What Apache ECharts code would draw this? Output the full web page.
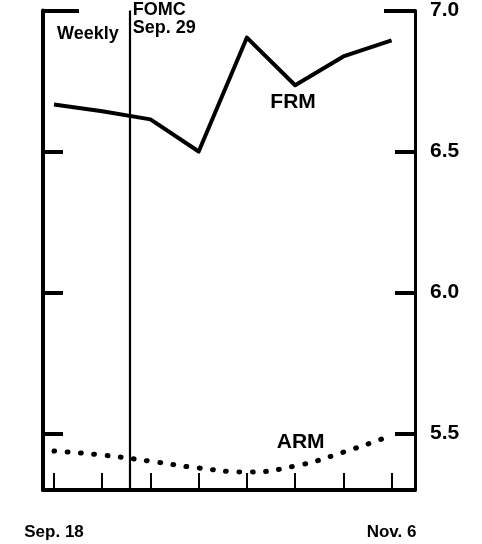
<!DOCTYPE html>
<html>
<head>
<meta charset="utf-8">
<script src="https://cdn.jsdelivr.net/npm/echarts@6/dist/echarts.min.js"></script>
<style>
html,body{margin:0;padding:0;background:#fff;}
#chart{width:482px;height:544px;}
</style>
</head>
<body>
<div id="chart"></div>
<script>
// Days since Sep. 18 (weekly observations)
const days = [0, 7, 14, 21, 28, 35, 42, 49];
const dateLabels = {0: 'Sep. 18', 49: 'Nov. 6'};
const frmValues = [6.667, 6.643, 6.614, 6.50, 6.904, 6.735, 6.837, 6.894];
const armValues = [5.438, 5.424, 5.402, 5.378, 5.364, 5.385, 5.434, 5.494];
const yTicks = [5.5, 6.0, 6.5];
const yLabels = [5.5, 6.0, 6.5, 7.0];
const fomcDay = 11; // Sep. 29
const fomcText = 'FOMC\nSep. 29';

const FONT = '"Liberation Sans", Arial, sans-serif';
const chart = echarts.init(document.getElementById('chart'));

const pairs = (vals) => days.map((d, i) => [d, vals[i]]);

const yBase = {
  type: 'value', min: 5.3, max: 7.0,
  splitLine: {show: false},
};

chart.setOption({
  animation: false,
  backgroundColor: '#fff',
  title: {
    text: 'Weekly', left: 52, top: 20,
    textStyle: {fontFamily: FONT, fontWeight: 'bold', fontSize: 18, color: '#000'}
  },
  grid: {left: 43, right: 67, top: 9, bottom: 54},
  xAxis: {
    type: 'value', min: -1.6, max: 52.4,
    splitLine: {show: false},
    axisLine: {onZero: false, lineStyle: {color: '#000', width: 4}},
    axisTick: {inside: true, length: 17, customValues: days, lineStyle: {color: '#000', width: 2}},
    axisLabel: {
      customValues: [0, 49], margin: 34,
      fontFamily: FONT, fontWeight: 'bold', fontSize: 17, color: '#000',
      formatter: v => dateLabels[v] || ''
    }
  },
  yAxis: [
    Object.assign({}, yBase, {
      position: 'right',
      axisLine: {show: true, onZero: false, lineStyle: {color: '#000', width: 3}},
      axisTick: {show: true, inside: true, length: 20, customValues: yTicks, lineStyle: {color: '#000', width: 4}},
      axisLabel: {show: true, customValues: yLabels, margin: 15,
        fontFamily: FONT, fontWeight: 'bold', fontSize: 21, color: '#000',
        formatter: v => v.toFixed(1)}
    }),
    Object.assign({}, yBase, {
      position: 'left',
      axisLine: {show: true, onZero: false, lineStyle: {color: '#000', width: 4}},
      axisTick: {show: true, inside: true, length: 20, customValues: yTicks, lineStyle: {color: '#000', width: 4}},
      axisLabel: {show: false}
    }),
    Object.assign({}, yBase, {
      position: 'right',
      axisLine: {show: false, onZero: false},
      axisTick: {show: true, inside: true, length: 31, customValues: [7.0], lineStyle: {color: '#000', width: 4}},
      axisLabel: {show: false}
    }),
    Object.assign({}, yBase, {
      position: 'left',
      axisLine: {show: false, onZero: false},
      axisTick: {show: true, inside: true, length: 36, customValues: [7.0], lineStyle: {color: '#000', width: 4}},
      axisLabel: {show: false}
    })
  ],
  series: [
    {
      name: 'FRM', type: 'line', yAxisIndex: 0,
      data: pairs(frmValues),
      symbol: 'none',
      lineStyle: {color: '#000', width: 4, join: 'round'},
      markPoint: {
        symbolSize: 0,
        data: [{coord: [34.7, 6.675], value: 'FRM'}],
        label: {show: true, position: 'inside', formatter: 'FRM',
          fontFamily: FONT, fontWeight: 'bold', fontSize: 21, color: '#000'}
      },
      markLine: {
        silent: true, symbol: 'none',
        lineStyle: {color: '#000', width: 2.2, type: 'solid'},
        label: {show: false},
        data: [{xAxis: fomcDay}]
      }
    },
    {
      name: 'ARM', type: 'line', yAxisIndex: 0,
      data: pairs(armValues),
      symbol: 'none', smooth: 0.5,
      lineStyle: {color: '#000', width: 5, type: [0.8, 12.5], cap: 'round'},
      markPoint: {
        symbolSize: 0,
        data: [
          {coord: [35.8, 5.47], value: 'ARM', label: {formatter: 'ARM', position: 'inside'}},
          {coord: [fomcDay, 6.968], value: 'FOMC', label: {formatter: fomcText, position: 'right', distance: 3, align: 'left', lineHeight: 18, fontSize: 18}}
        ],
        label: {show: true, fontFamily: FONT, fontWeight: 'bold', fontSize: 21, color: '#000'}
      }
    }
  ]
});
</script>
</body>
</html>
